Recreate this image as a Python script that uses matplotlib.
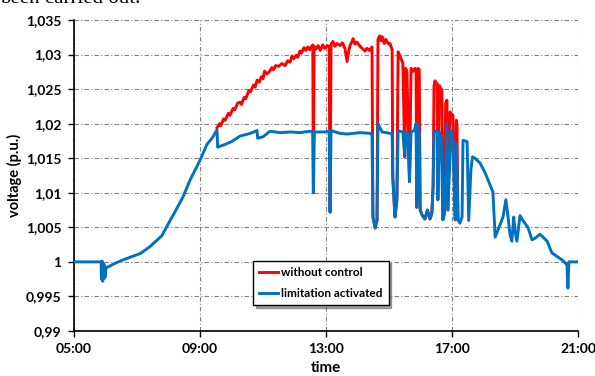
import matplotlib
matplotlib.use("Agg")
import matplotlib.pyplot as plt
from matplotlib.ticker import FuncFormatter, MultipleLocator

# time in hours of the day, voltage in p.u.
t_lim = [5.0, 5.86, 5.87, 5.89, 5.91, 5.93, 5.95, 5.97, 5.99, 6.01, 6.03, 6.14,
         6.3, 6.62, 7.1, 7.41, 7.79, 7.98, 8.2, 8.46, 8.68, 9.0, 9.22, 9.4,
         9.54, 9.56, 9.8, 10.0, 10.27, 10.6, 10.81, 10.83, 11.0, 11.22, 11.54,
         11.86, 12.17, 12.49, 12.58, 12.6, 12.63, 13.0, 13.1, 13.13, 13.16,
         13.44, 13.67, 14.08, 14.4, 14.46, 14.49, 14.56, 14.62, 14.65, 14.78,
         15.03, 15.1, 15.12, 15.19, 15.25, 15.29, 15.44, 15.5, 15.53, 15.6,
         15.65, 15.7, 15.8, 15.86, 15.88, 15.92, 15.96, 15.99, 16.05, 16.14,
         16.22, 16.3, 16.36, 16.4, 16.43, 16.49, 16.53, 16.55, 16.6, 16.66,
         16.71, 16.76, 16.84, 16.87, 16.97, 17.03, 17.1, 17.14, 17.19, 17.25,
         17.32, 17.35, 17.48, 17.53, 17.6, 17.65, 17.73, 17.89, 18.05, 18.21,
         18.3, 18.37, 18.46, 18.62, 18.71, 18.78, 18.84, 18.9, 18.96, 19.0,
         19.06, 19.16, 19.25, 19.41, 19.54, 19.63, 19.79, 20.02, 20.17, 20.49,
         20.65, 20.68, 20.71, 21.0]
v_lim = [1.0, 1.0, 0.9975, 1.0001, 0.9972, 0.9998, 0.9976, 0.9995, 0.9978,
         0.999, 0.9992, 0.9994, 0.9998, 1.0004, 1.0012, 1.0022, 1.0038, 1.0054,
         1.0072, 1.0094, 1.0118, 1.0147, 1.017, 1.018, 1.0191, 1.0166, 1.017,
         1.0174, 1.0182, 1.0186, 1.019, 1.0179, 1.0181, 1.0189, 1.0187, 1.0188,
         1.0187, 1.0189, 1.0188, 1.01, 1.0188, 1.0188, 1.0189, 1.0072, 1.019,
         1.0186, 1.0185, 1.0187, 1.0186, 1.0184, 1.0065, 1.0049, 1.006, 1.02,
         1.0188, 1.0186, 1.0185, 1.0123, 1.0065, 1.009, 1.019, 1.0188, 1.0152,
         1.0187, 1.0185, 1.0116, 1.0188, 1.019, 1.02, 1.0079, 1.0198, 1.0185,
         1.0075, 1.0068, 1.0062, 1.0075, 1.0062, 1.007, 1.0109, 1.0188, 1.019,
         1.0188, 1.009, 1.0188, 1.018, 1.0061, 1.007, 1.02, 1.0075, 1.019,
         1.0176, 1.0061, 1.0172, 1.0061, 1.0056, 1.0065, 1.0176, 1.0174, 1.006,
         1.0133, 1.0152, 1.015, 1.0143, 1.0129, 1.0111, 1.0101, 1.0036, 1.0046,
         1.0065, 1.009, 1.0065, 1.004, 1.003, 1.0065, 1.0045, 1.003, 1.0067,
         1.006, 1.005, 1.0032, 1.0034, 1.004, 1.003, 1.0013, 1.0003, 0.9996,
         0.9962, 1.0, 1.0]

t_nc = [9.54, 9.62, 9.66, 9.75, 9.8, 9.9, 9.95, 10.05, 10.1, 10.2, 10.27, 10.32,
        10.4, 10.45, 10.55, 10.6, 10.7, 10.75, 10.81, 10.88, 10.95, 11.0, 11.05,
        11.12, 11.2, 11.28, 11.33, 11.4, 11.5, 11.6, 11.7, 11.78, 11.86, 11.92,
        11.98, 12.05, 12.1, 12.17, 12.22, 12.3, 12.36, 12.42, 12.48, 12.58,
        12.6, 12.62, 12.68, 12.75, 12.82, 12.9, 12.96, 13.05, 13.1, 13.13,
        13.16, 13.22, 13.28, 13.35, 13.44, 13.52, 13.6, 13.67, 13.72, 13.76,
        13.82, 13.86, 13.92, 13.98, 14.08, 14.15, 14.24, 14.3, 14.38, 14.46,
        14.49, 14.56, 14.62, 14.65, 14.7, 14.74, 14.78, 14.85, 14.9, 14.94,
        15.0, 15.03, 15.1, 15.12, 15.19, 15.25, 15.29, 15.36, 15.44, 15.5,
        15.53, 15.57, 15.65, 15.7, 15.76, 15.83, 15.86, 15.88, 15.92, 15.96,
        15.99, 16.05, 16.14, 16.22, 16.3, 16.36, 16.4, 16.43, 16.46, 16.5,
        16.53, 16.55, 16.6, 16.64, 16.68, 16.71, 16.76, 16.8, 16.84, 16.87,
        16.94, 16.98, 17.03, 17.1, 17.14, 17.16, 17.19]
v_nc = [1.0194, 1.02, 1.0197, 1.0207, 1.0205, 1.0215, 1.0212, 1.0222, 1.022,
        1.023, 1.0231, 1.0228, 1.0238, 1.0236, 1.0248, 1.0246, 1.0256, 1.0253,
        1.0263, 1.026, 1.0268, 1.0265, 1.0276, 1.0272, 1.0275, 1.0281, 1.0278,
        1.0284, 1.0283, 1.0287, 1.0284, 1.0291, 1.0289, 1.0298, 1.0294, 1.0299,
        1.0296, 1.0305, 1.0302, 1.031, 1.0306, 1.0311, 1.0307, 1.0314, 1.01,
        1.0312, 1.0308, 1.0313, 1.0306, 1.0314, 1.0309, 1.0313, 1.0311, 1.0072,
        1.0315, 1.0319, 1.0312, 1.0316, 1.0313, 1.0317, 1.0309, 1.029, 1.0305,
        1.0313, 1.0318, 1.0323, 1.0315, 1.0318, 1.0312, 1.0309, 1.0305, 1.0309,
        1.0306, 1.0311, 1.0065, 1.0049, 1.006, 1.0322, 1.0327, 1.032, 1.0326,
        1.0316, 1.0322, 1.0318, 1.0315, 1.0316, 1.0307, 1.0123, 1.0065, 1.009,
        1.0304, 1.0296, 1.0288, 1.0152, 1.028, 1.0275, 1.0116, 1.028, 1.0276,
        1.028, 1.0278, 1.0079, 1.028, 1.0278, 1.0075, 1.0068, 1.0062, 1.0075,
        1.0062, 1.007, 1.0109, 1.0255, 1.0262, 1.0259, 1.0258, 1.009, 1.0255,
        1.0251, 1.0249, 1.0061, 1.007, 1.023, 1.0234, 1.0075, 1.0217, 1.0214,
        1.0212, 1.0061, 1.0205, 1.0196, 1.0061]

x_ticks = [5, 9, 13, 17, 21]

plt.rcParams['font.family'] = ['Lato', 'DejaVu Sans']

fig = plt.figure(figsize=(5.95, 3.76), dpi=100)
ax = fig.add_axes([0.1244, 0.1197, 0.847, 0.8271])

ax.plot(t_nc, v_nc, color='#ff0000', lw=2.1, label='without control', zorder=3)
ax.plot(t_lim, v_lim, color='#0070c0', lw=2.1, label='limitation activated', zorder=4)

ax.set_xlim(5, 21)
ax.set_ylim(0.99, 1.035)
ax.set_xticks(x_ticks)
ax.yaxis.set_major_locator(MultipleLocator(0.005))
ax.xaxis.set_major_formatter(FuncFormatter(lambda v, p: '%02d:00' % int(round(v))))
ax.yaxis.set_major_formatter(FuncFormatter(lambda v, p: ('%g' % round(v, 3)).replace('.', ',')))

ax.grid(True, color='#808080', lw=0.8, linestyle=(0, (4, 2, 1, 2)))
ax.spines['top'].set_visible(False)
ax.spines['right'].set_visible(False)
ax.spines['left'].set_linewidth(1.2)
ax.spines['bottom'].set_linewidth(1.2)
ax.tick_params(direction='out', length=4, width=1, labelsize=10, pad=5)
for lab in ax.get_xticklabels() + ax.get_yticklabels():
    lab.set_fontweight('bold')

ax.set_xlabel('time', fontsize=11, fontweight='bold', labelpad=4)
ax.set_ylabel('voltage (p.u.)', fontsize=10.5, fontweight='bold', labelpad=3)

leg = ax.legend(loc='upper left', bbox_to_anchor=(0.343, 0.245), fancybox=False,
                shadow=True, edgecolor='black', framealpha=1, handlelength=1.6,
                handletextpad=0.2, labelspacing=0.8, borderpad=0.55,
                prop={'weight': 'bold', 'size': 8.5})
leg.get_frame().set_linewidth(1.0)

# cut-off line of the surrounding document text
fig.text(0.0, 0.991, 'been carried out.', family='Liberation Serif', fontsize=15,
         va='baseline', ha='left')

fig.savefig('out.png', dpi=100)
